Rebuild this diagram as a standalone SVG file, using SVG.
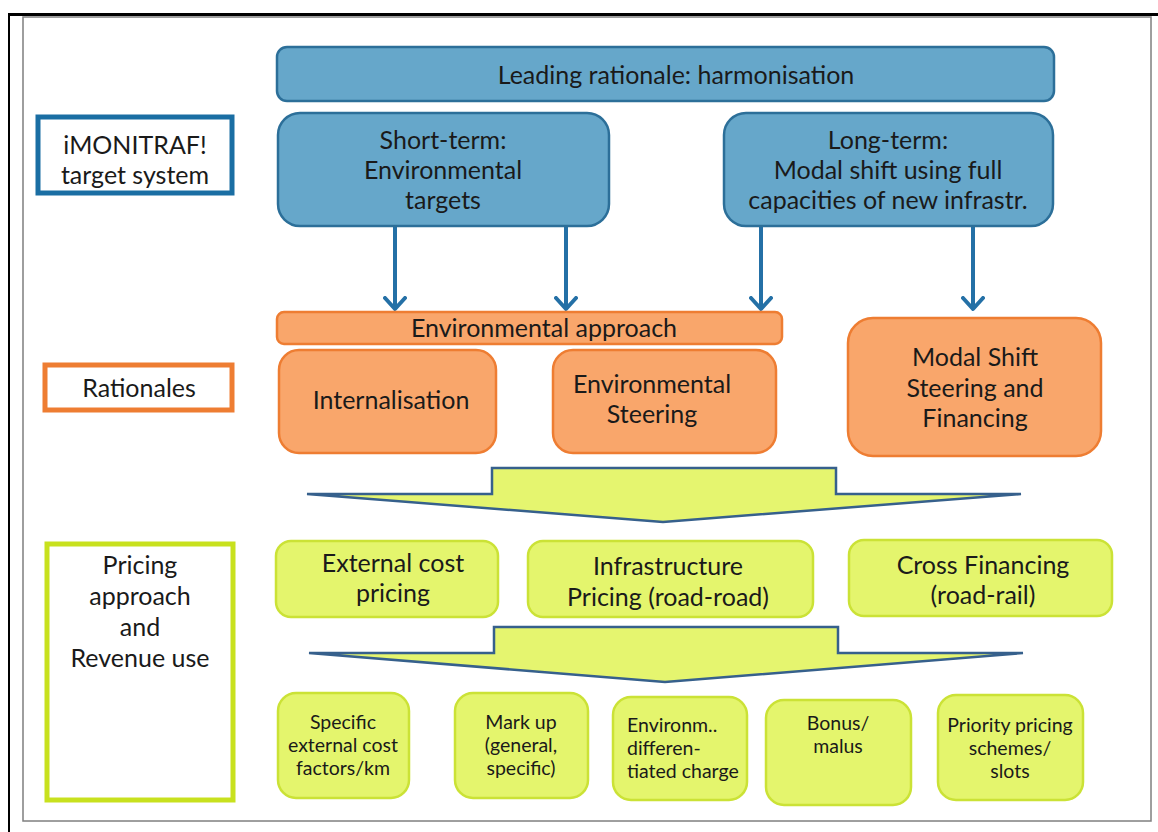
<svg xmlns="http://www.w3.org/2000/svg" width="1158" height="832" viewBox="0 0 1158 832">
<defs>
<style>
text{font-family:Lato,"Open Sans","Liberation Sans",sans-serif;fill:#1a1a1a;text-anchor:middle}
.t21{font-size:25px}
.t17{font-size:19.5px}
.blue{fill:#66a7ca;stroke:#2c6f99;stroke-width:2.5}
.orange{fill:#f9a66b;stroke:#ee7d32;stroke-width:2.5}
.yellow{fill:#e4f56d;stroke:#cbe236;stroke-width:2.5}
.lbl{fill:#fff;stroke-width:5}
.conn{stroke:#2470a6;stroke-width:4;fill:none}
.bigarrow{fill:#e5f56f;stroke:#36608c;stroke-width:2.5;stroke-linejoin:miter}
</style>
<marker id="chev" viewBox="0 0 16 24" refX="13" refY="12" markerWidth="16" markerHeight="24" markerUnits="userSpaceOnUse" orient="auto">
<path d="M2,2 L13,12 L2,22" fill="none" stroke="#2470a6" stroke-width="4" stroke-linecap="round" stroke-linejoin="round"/>
</marker>
</defs>
<rect width="1158" height="832" fill="#fff"/>
<g id="frame">
<rect x="23" y="17" width="1128" height="804" fill="none" stroke="#7f7f7f" stroke-width="1.5"/>
<line x1="8" y1="14.5" x2="1158" y2="14.5" stroke="#000" stroke-width="3"/>
<line x1="9" y1="14" x2="9" y2="832" stroke="#000" stroke-width="2"/>
</g>

<g id="connectors">
<line class="conn" x1="395" y1="227" x2="395" y2="309" marker-end="url(#chev)"/>
<line class="conn" x1="566" y1="227" x2="566" y2="309" marker-end="url(#chev)"/>
<line class="conn" x1="761" y1="227" x2="761" y2="309" marker-end="url(#chev)"/>
<line class="conn" x1="973" y1="227" x2="973" y2="309" marker-end="url(#chev)"/>
<polygon id="arrow1" class="bigarrow" points="492,468 836,468 836,494 1021,494 663,522 307,494 492,494"/>
<polygon id="arrow2" class="bigarrow" points="494,627 838,627 838,653 1023,653 665,682 309,653 494,653"/>
</g>

<g id="leading">
<rect class="blue" x="277" y="47" width="777" height="54" rx="10"/>
<text class="t21" x="676" y="84">Leading rationale: harmonisation</text>
</g>
<g id="imonitraf">
<rect class="lbl" x="38" y="117" width="194" height="76" stroke="#1a6ea3"/>
<text class="t21" x="135" y="154">iMONITRAF!</text>
<text class="t21" x="135" y="184">target system</text>
</g>
<g id="shortterm">
<rect class="blue" x="278" y="113" width="331" height="113" rx="22"/>
<text class="t21" x="443" y="149">Short-term:</text>
<text class="t21" x="443" y="179">Environmental</text>
<text class="t21" x="443" y="209">targets</text>
</g>
<g id="longterm">
<rect class="blue" x="724" y="113" width="329" height="113" rx="22"/>
<text class="t21" x="888" y="149">Long-term:</text>
<text class="t21" x="888" y="179">Modal shift using full</text>
<text class="t21" x="888" y="209">capacities of new infrastr.</text>
</g>
<g id="envapproach">
<rect class="orange" x="277" y="312" width="505" height="32" rx="7"/>
<text class="t21" x="544" y="337">Environmental approach</text>
</g>
<g id="rationales">
<rect class="lbl" x="45" y="365" width="187" height="45" stroke="#ee7d32"/>
<text class="t21" x="139" y="397">Rationales</text>
</g>
<g id="internalisation">
<rect class="orange" x="279" y="350" width="217" height="103" rx="20"/>
<text class="t21" x="391" y="409">Internalisation</text>
</g>
<g id="envsteering">
<rect class="orange" x="553" y="350" width="223" height="103" rx="20"/>
<text class="t21" x="652" y="393">Environmental</text>
<text class="t21" x="652" y="423">Steering</text>
</g>
<g id="modalshift">
<rect class="orange" x="848" y="318" width="253" height="138" rx="25"/>
<text class="t21" x="975" y="366">Modal Shift</text>
<text class="t21" x="975" y="397">Steering and</text>
<text class="t21" x="975" y="427">Financing</text>
</g>
<g id="pricing">
<rect class="lbl" x="47" y="544" width="186" height="256" stroke="#c8e11e"/>
<text class="t21" x="140" y="574">Pricing</text>
<text class="t21" x="140" y="605">approach</text>
<text class="t21" x="140" y="636">and</text>
<text class="t21" x="140" y="667">Revenue use</text>
</g>
<g id="externalcost">
<rect class="yellow" x="276" y="541" width="222" height="76" rx="15"/>
<text class="t21" x="393" y="572">External cost</text>
<text class="t21" x="393" y="602">pricing</text>
</g>
<g id="infrastructure">
<rect class="yellow" x="528" y="541" width="285" height="76" rx="15"/>
<text class="t21" x="668" y="575">Infrastructure</text>
<text class="t21" x="668" y="606">Pricing (road-road)</text>
</g>
<g id="crossfinancing">
<rect class="yellow" x="849" y="540" width="263" height="76" rx="15"/>
<text class="t21" x="983" y="574">Cross Financing</text>
<text class="t21" x="983" y="604">(road-rail)</text>
</g>
<g id="specific">
<rect class="yellow" x="278" y="693" width="131" height="105" rx="18"/>
<text class="t17" x="343" y="729">Specific</text>
<text class="t17" x="343" y="752">external cost</text>
<text class="t17" x="343" y="775">factors/km</text>
</g>
<g id="markup">
<rect class="yellow" x="455" y="693" width="133" height="105" rx="18"/>
<text class="t17" x="521" y="729">Mark up</text>
<text class="t17" x="521" y="752">(general,</text>
<text class="t17" x="521" y="775">specific)</text>
</g>
<g id="environm">
<rect class="yellow" x="613" y="697" width="134" height="103" rx="18"/>
<text class="t17" x="627" y="732" style="text-anchor:start">Environm..</text>
<text class="t17" x="627" y="755" style="text-anchor:start">differen-</text>
<text class="t17" x="627" y="778" style="text-anchor:start">tiated charge</text>
</g>
<g id="bonus">
<rect class="yellow" x="766" y="700" width="145" height="105" rx="18"/>
<text class="t17" x="838" y="730">Bonus/</text>
<text class="t17" x="838" y="753">malus</text>
</g>
<g id="priority">
<rect class="yellow" x="938" y="695" width="145" height="105" rx="18"/>
<text class="t17" x="1010" y="732">Priority pricing</text>
<text class="t17" x="1010" y="755">schemes/</text>
<text class="t17" x="1010" y="778">slots</text>
</g>
</svg>
